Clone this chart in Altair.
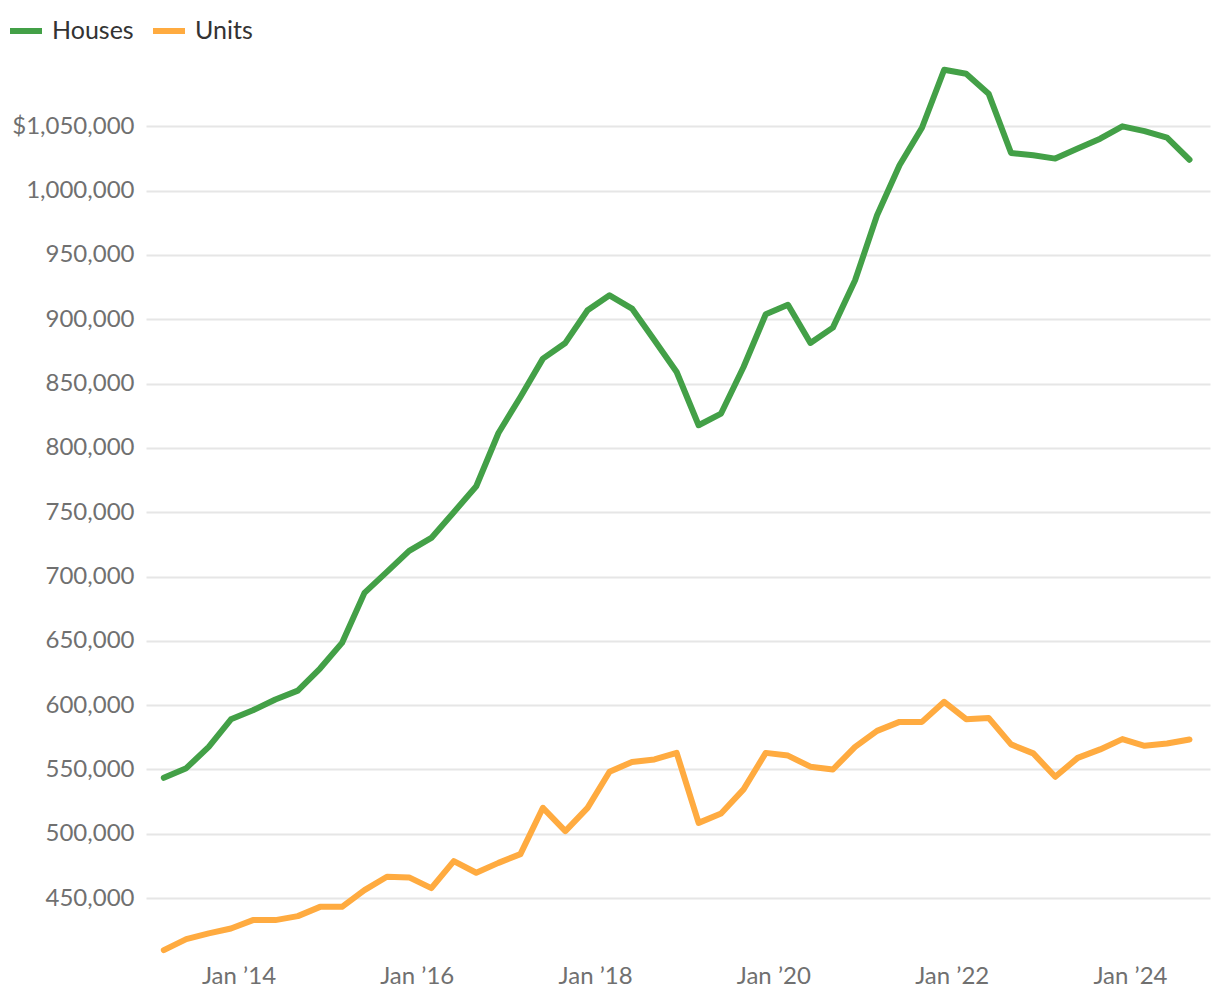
import altair as alt
import pandas as pd

dates = [
    "2013-03-01", "2013-06-01", "2013-09-01", "2013-12-01",
    "2014-03-01", "2014-06-01", "2014-09-01", "2014-12-01",
    "2015-03-01", "2015-06-01", "2015-09-01", "2015-12-01",
    "2016-03-01", "2016-06-01", "2016-09-01", "2016-12-01",
    "2017-03-01", "2017-06-01", "2017-09-01", "2017-12-01",
    "2018-03-01", "2018-06-01", "2018-09-01", "2018-12-01",
    "2019-03-01", "2019-06-01", "2019-09-01", "2019-12-01",
    "2020-03-01", "2020-06-01", "2020-09-01", "2020-12-01",
    "2021-03-01", "2021-06-01", "2021-09-01", "2021-12-01",
    "2022-03-01", "2022-06-01", "2022-09-01", "2022-12-01",
    "2023-03-01", "2023-06-01", "2023-09-01", "2023-12-01",
    "2024-03-01", "2024-06-01", "2024-09-01",
]

houses = [
    543500, 551000, 567600, 589000, 596000, 604400, 611300, 628500,
    648400, 687300, 703600, 719900, 730000, 750000, 770200, 811600,
    839600, 869400, 881600, 907000, 918600, 908300, 883700, 859000,
    817600, 826700, 862900, 903900, 911300, 881600, 893500, 930300,
    980800, 1019700, 1048900, 1094000, 1090900, 1075400, 1029300, 1027500,
    1024900, 1032700, 1040400, 1050000, 1046300, 1041200, 1024000,
]

units = [
    409600, 418100, 422600, 426400, 432900, 432900, 436000, 443200,
    443200, 456200, 466600, 466100, 457800, 478800, 469700, 477400,
    484200, 520200, 502100, 520200, 548200, 555900, 557800, 562900,
    508500, 515800, 534500, 562900, 560800, 552200, 550000, 567600,
    580000, 587000, 587000, 602600, 589100, 590100, 569500, 562500,
    544300, 559000, 565600, 573600, 568400, 570200, 573300,
]

series_names = ["Houses", "Units"]
series_colors = ["#43a047", "#ffab40"]
y_ticks = [450000, 500000, 550000, 600000, 650000, 700000, 750000,
           800000, 850000, 900000, 950000, 1000000, 1050000]
x_tick_years = [2014, 2016, 2018, 2020, 2022, 2024]

df = pd.DataFrame({
    "date": dates + dates,
    "series": ["Houses"] * len(houses) + ["Units"] * len(units),
    "value": houses + units,
})

label_color = "#707070"

chart = alt.Chart(df).mark_line(
    strokeWidth=6, strokeCap="round", strokeJoin="round"
).encode(
    x=alt.X(
        "date:T",
        scale=alt.Scale(
            type="utc",
            domain=[alt.DateTime(year=2012, month=12, date=18, utc=True),
                    alt.DateTime(year=2024, month=11, date=24, utc=True)],
        ),
        axis=alt.Axis(
            values=[alt.DateTime(year=y, month=1, date=1, utc=True) for y in x_tick_years],
            labelExpr="utcFormat(datum.value, '%b \u2019%y')",
            title=None, grid=False, domain=False, ticks=False,
            labelFontSize=24, labelColor=label_color, labelPadding=8,
        ),
    ),
    y=alt.Y(
        "value:Q",
        scale=alt.Scale(domain=[405000, 1100000], nice=False, zero=False),
        axis=alt.Axis(
            values=y_ticks,
            labelExpr="datum.value == 1050000 ? '$' + format(datum.value, ',') : format(datum.value, ',')",
            title=None, domain=False, ticks=False,
            gridColor="#e6e6e6", gridWidth=2,
            labelFontSize=24, labelColor=label_color, labelPadding=12,
        ),
    ),
    color=alt.Color(
        "series:N",
        scale=alt.Scale(domain=series_names, range=series_colors),
        legend=alt.Legend(
            title=None, orient="none", legendX=-139, legendY=-50,
            direction="horizontal", symbolType="stroke", symbolStrokeWidth=6,
            symbolSize=1024, labelFontSize=25, labelColor="#333333",
            labelOffset=7, columnPadding=7, padding=0,
        ),
    ),
).properties(
    width=1064, height=894,
    autosize=alt.AutoSizeParams(type="none"),
    padding={"left": 146, "top": 62, "right": 10, "bottom": 48},
).configure(font="Lato").configure_view(stroke=None)

chart.save("out.html", embed_options={"renderer": "svg", "actions": False})
